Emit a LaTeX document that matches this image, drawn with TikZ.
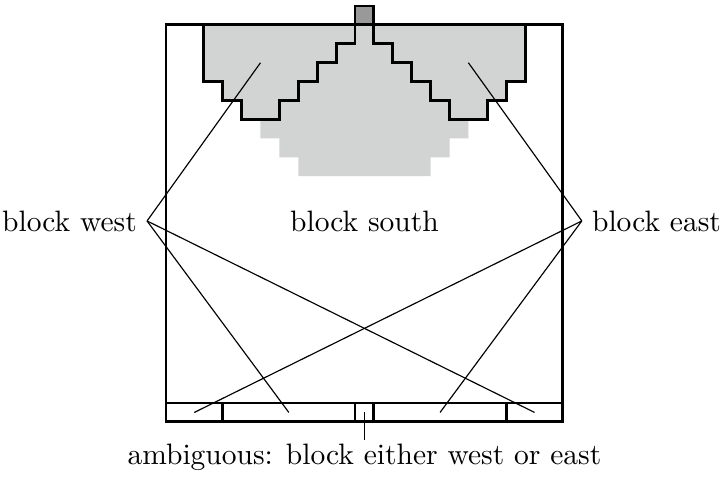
\documentclass[tikz,border=0pt]{standalone}
\usepackage{fontspec}
\setmainfont{Latin Modern Roman}
\definecolor{cellgrey}{RGB}{210,211,211}
\definecolor{seedgrey}{RGB}{153,153,153}
\begin{document}
\begin{tikzpicture}[x=6.5pt,y=6.5pt,
  outline/.style={line width=1pt, line join=miter},
  pointer/.style={line width=0.4pt},
  label/.style={font=\fontsize{10.15pt}{12.2pt}\selectfont}]
\useasboundingbox (-8.78,-3.02) rectangle (29.31,22.32);

% shaded cells reached below the seed
\fill[cellgrey] (2,21) -- (2,18) -- (3,18) -- (3,17) -- (4,17) -- (4,16)
  -- (5,16) -- (5,15) -- (6,15) -- (6,14) -- (7,14) -- (7,13)
  -- (14,13) -- (14,14) -- (15,14) -- (15,15) -- (16,15) -- (16,16)
  -- (17,16) -- (17,17) -- (18,17) -- (18,18) -- (19,18) -- (19,21) -- cycle;

% west block outline
\draw[outline] (2,21) -- (2,18) -- (3,18) -- (3,17) -- (4,17) -- (4,16)
  -- (6,16) -- (6,17) -- (7,17) -- (7,18) -- (8,18) -- (8,19) -- (9,19)
  -- (9,20) -- (10,20) -- (10,21) -- cycle;

% east block outline
\draw[outline] (11,21) -- (11,20) -- (12,20) -- (12,19) -- (13,19) -- (13,18)
  -- (14,18) -- (14,17) -- (15,17) -- (15,16) -- (17,16) -- (17,17)
  -- (18,17) -- (18,18) -- (19,18) -- (19,21) -- cycle;

% seed cell on top
\draw[outline, fill=seedgrey] (10,21) rectangle (11,22);

% frame and bottom row
\draw[outline] (0,0) rectangle (21,21);
\draw[outline] (0,1) -- (21,1);
\foreach \c in {3,10,11,18} \draw[outline] (\c,0) -- (\c,1);

% anchor points for the pointers
\coordinate (wblock) at (5,19);
\coordinate (eblock) at (16,19);
\coordinate (cellA) at (1.5,0.5);
\coordinate (cellB) at (6.5,0.5);
\coordinate (cellC) at (10.5,0.5);
\coordinate (cellD) at (14.5,0.5);
\coordinate (cellE) at (19.5,0.5);

% labels
\node[label, anchor=east] (bw) at (-1,10.63) {block west};
\node[label, anchor=west] (be) at (22,10.63) {block east};
\node[label] (bs) at (10.5,10.63) {block south};
\node[label, anchor=north, inner sep=1pt] (amb) at (10.5,-0.96) {ambiguous: block either west or east};

% pointers
\draw[pointer] (bw.east) -- (wblock);
\draw[pointer] (bw.east) -- (cellB);
\draw[pointer] (bw.east) -- (cellE);
\draw[pointer] (be.west) -- (eblock);
\draw[pointer] (be.west) -- (cellD);
\draw[pointer] (be.west) -- (cellA);
\draw[pointer] (cellC) -- (amb.north);
\end{tikzpicture}
\end{document}
